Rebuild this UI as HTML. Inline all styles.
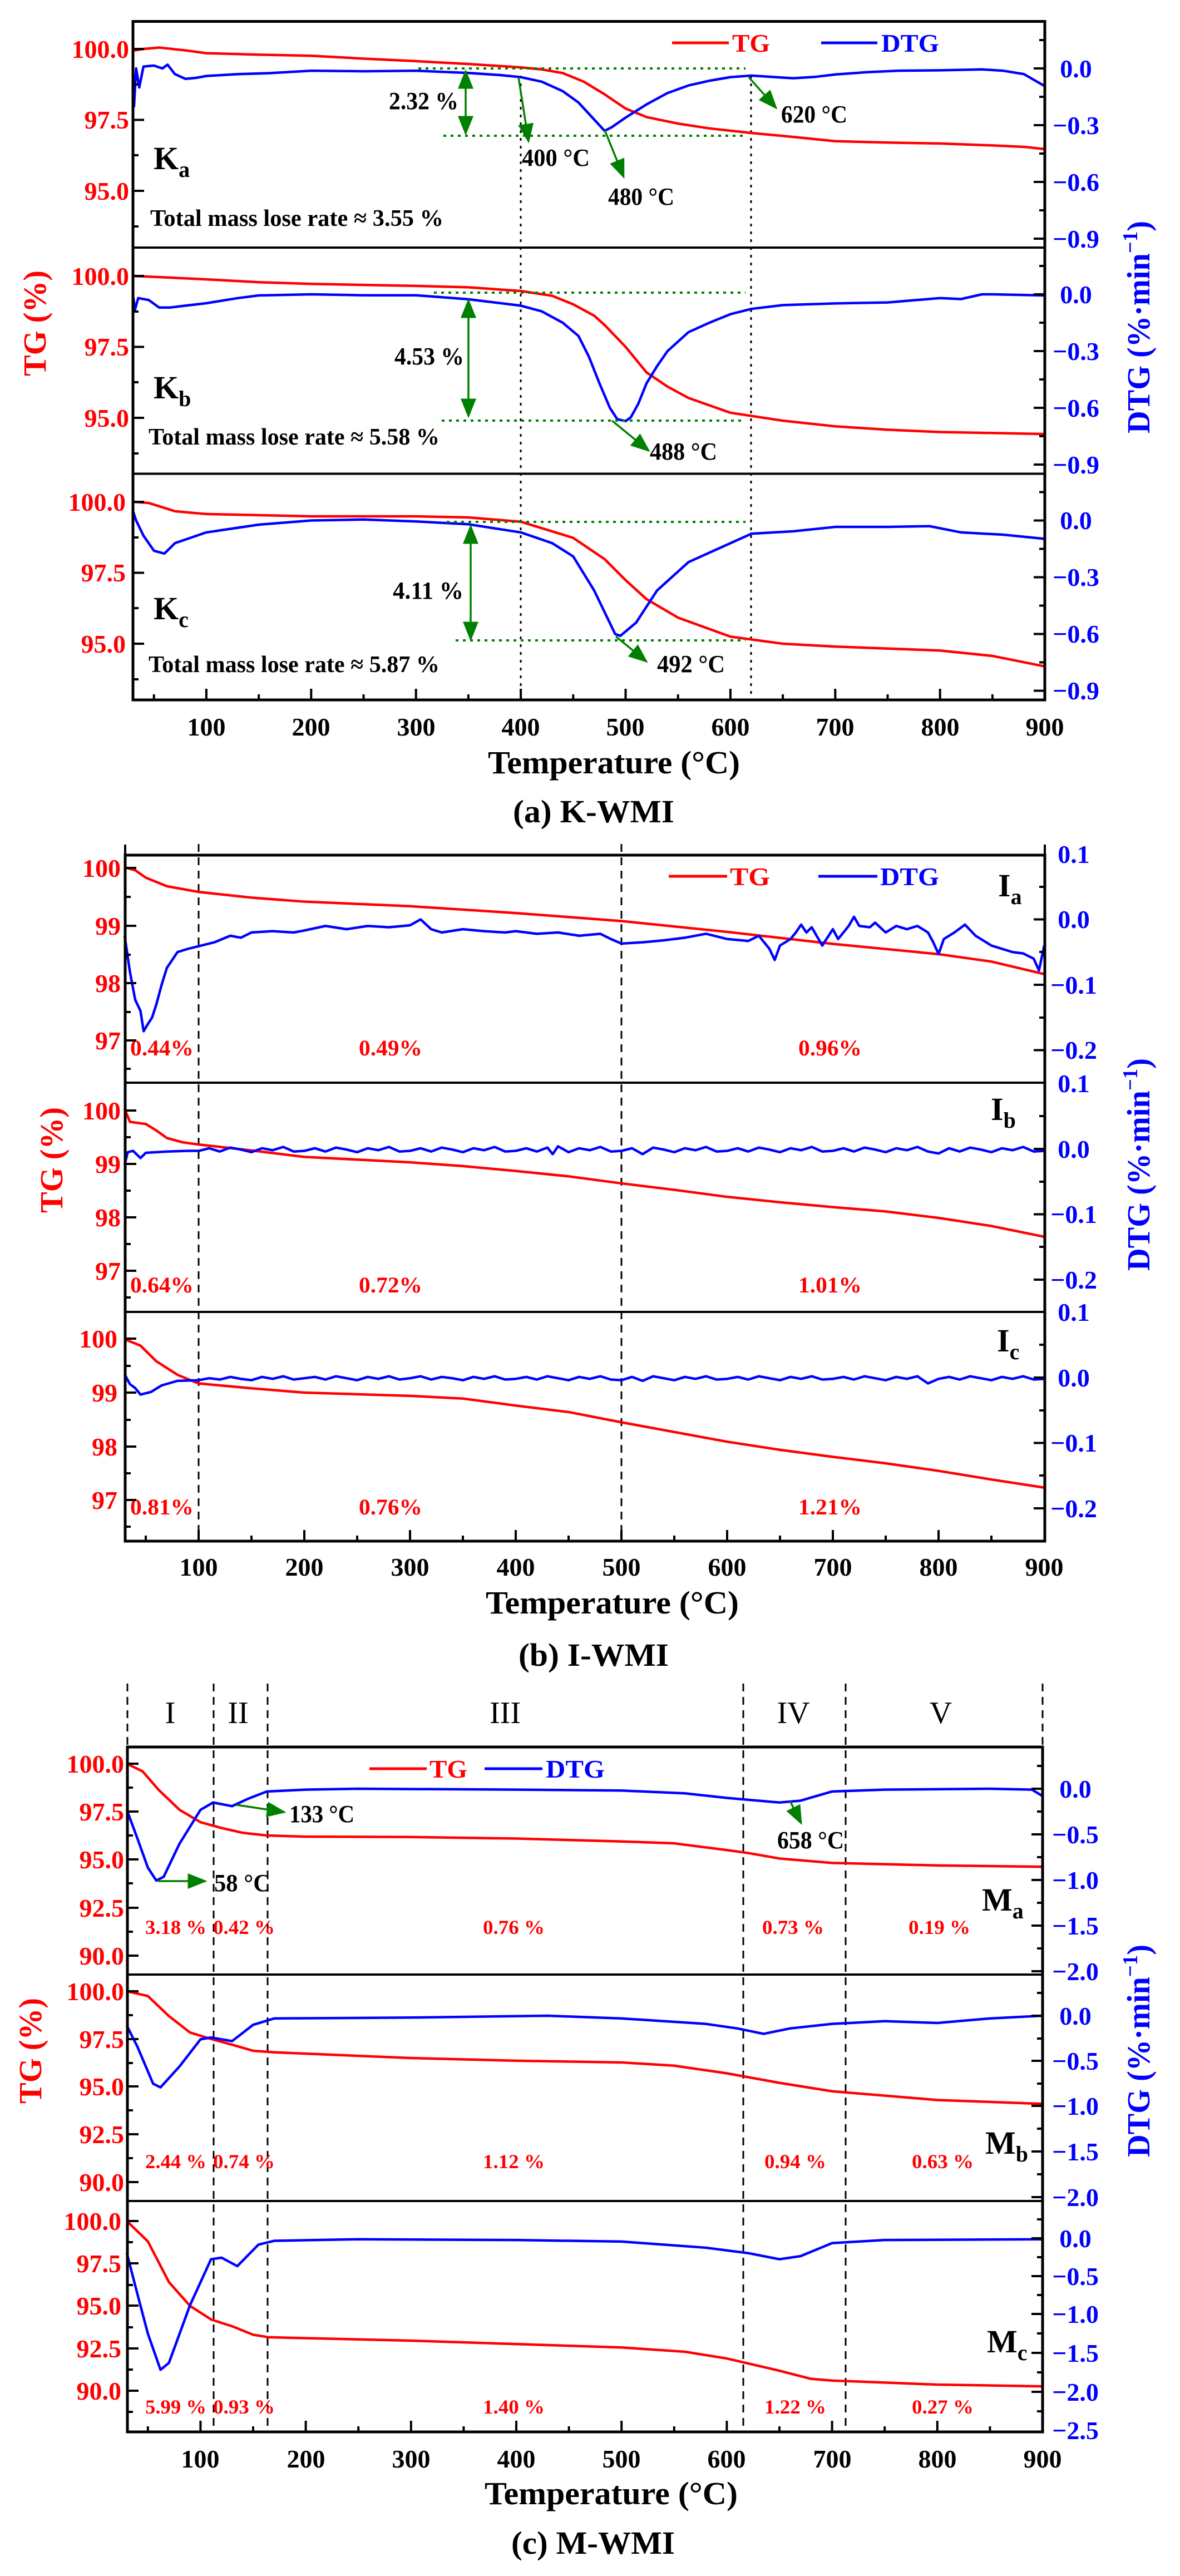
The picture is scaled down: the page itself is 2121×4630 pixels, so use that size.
<!DOCTYPE html>
<html><head><meta charset="utf-8"><style>
html,body{margin:0;padding:0;background:#fff}
svg{display:block}
text{font-family:"Liberation Serif",serif;font-weight:bold}
.r{fill:#ff0000}.b{fill:#0000ff}.k{fill:#000}
.tg{fill:none;stroke:#ff0000;stroke-width:4.5;vector-effect:non-scaling-stroke;stroke-linejoin:round}
.dt{fill:none;stroke:#0000ff;stroke-width:4.5;vector-effect:non-scaling-stroke;stroke-linejoin:round}
.ax{fill:none;stroke:#000;stroke-width:5}
.sep{stroke:#000;stroke-width:4}
.tk{stroke:#000;stroke-width:4;fill:none}
.gd{stroke:#008000;stroke-width:4;stroke-dasharray:5 8;fill:none}
.kd{stroke:#000;stroke-width:3;stroke-dasharray:5 9;fill:none}
.kd2{stroke:#000;stroke-width:3;stroke-dasharray:14 10;fill:none}
.ga{stroke:#008000;stroke-width:3.5;fill:none}
</style></head><body>
<svg width="2121" height="4630" viewBox="0 0 2121 4630" xmlns="http://www.w3.org/2000/svg">
<defs>
<marker id="ah" markerWidth="10" markerHeight="8" refX="9" refY="4" orient="auto" markerUnits="strokeWidth"><path d="M0,0 L10,4 L0,8 Z" fill="#008000"/></marker>
<marker id="ah2" markerWidth="10" markerHeight="8" refX="9" refY="4" orient="auto-start-reverse" markerUnits="strokeWidth"><path d="M0,0 L10,4 L0,8 Z" fill="#008000"/></marker>
</defs>

<!-- ================= PANEL A ================= -->
<g>
<!-- dotted black verticals -->
<line class="kd" x1="936" y1="136" x2="936" y2="1258"/>
<line class="kd" x1="1350" y1="136" x2="1350" y2="1258"/>
<!-- curves -->
<g transform="matrix(1.884 0 0 -51 182.5 5188)">
<polyline class="tg" points="30,99.94 40,100.0 55,100.05 80,99.95 100,99.85 150,99.8 200,99.76 250,99.66 300,99.57 350,99.47 380,99.4 400,99.35 420,99.28 440,99.15 460,98.85 480,98.4 500,97.9 520,97.6 550,97.37 580,97.2 620,97.04 660,96.9 700,96.75 750,96.7 800,96.67 850,96.6 880,96.55 900,96.47"/>
</g>
<g transform="matrix(1.884 0 0 -340 182.5 123)">
<polyline class="dt" points="30,0.0 31,-0.2 33,0.0 36,-0.1 40,0.01 50,0.015 58,0.0 63,0.02 70,-0.03 80,-0.055 90,-0.05 100,-0.04 130,-0.03 160,-0.025 200,-0.012 250,-0.015 300,-0.012 350,-0.024 380,-0.035 400,-0.046 420,-0.07 440,-0.12 455,-0.18 470,-0.27 480,-0.33 487,-0.31 500,-0.26 520,-0.19 540,-0.13 560,-0.09 580,-0.065 600,-0.046 620,-0.038 640,-0.045 660,-0.052 680,-0.045 700,-0.032 730,-0.02 760,-0.012 800,-0.01 840,-0.005 860,-0.012 880,-0.03 900,-0.094"/>
</g>
<g transform="matrix(1.884 0 0 -51 182.5 5596)">
<polyline class="tg" points="30,100 60,99.95 100,99.88 150,99.78 200,99.72 300,99.65 350,99.6 400,99.47 430,99.3 450,99.0 470,98.6 480,98.27 500,97.5 520,96.6 540,96.1 560,95.7 600,95.18 650,94.9 700,94.7 750,94.58 800,94.5 900,94.43"/>
</g>
<g transform="matrix(1.884 0 0 -340 182.5 529)">
<polyline class="dt" points="30,-0.006 32,-0.08 35,-0.02 45,-0.03 55,-0.07 65,-0.07 80,-0.06 100,-0.047 130,-0.02 150,-0.006 200,0 250,-0.005 300,-0.005 350,-0.026 400,-0.06 420,-0.09 440,-0.15 455,-0.22 465,-0.33 475,-0.47 485,-0.6 492,-0.66 500,-0.67 505,-0.65 512,-0.58 520,-0.47 530,-0.38 540,-0.3 560,-0.2 580,-0.15 600,-0.105 620,-0.077 650,-0.057 700,-0.048 750,-0.043 800,-0.02 820,-0.025 840,0.0 850,0.0 900,-0.006"/>
</g>
<g transform="matrix(1.884 0 0 -51 182.5 6002)">
<polyline class="tg" points="30,100 45,99.96 70,99.67 100,99.57 200,99.49 300,99.49 350,99.45 400,99.3 450,98.73 480,97.98 500,97.24 520,96.57 550,95.92 600,95.25 650,95.0 700,94.9 800,94.76 850,94.57 900,94.2"/>
</g>
<g transform="matrix(1.884 0 0 -340 182.5 935.5)">
<polyline class="dt" points="30,0.05 33,0.0 40,-0.08 50,-0.16 60,-0.175 70,-0.12 100,-0.063 150,-0.022 200,0 250,0.005 300,-0.005 350,-0.02 400,-0.063 430,-0.12 450,-0.19 470,-0.37 490,-0.6 495,-0.61 510,-0.54 530,-0.37 560,-0.22 600,-0.12 620,-0.07 660,-0.057 700,-0.034 750,-0.034 790,-0.03 820,-0.063 860,-0.075 900,-0.097"/>
</g>

<!-- annotations Ka -->
<line class="gd" x1="752" y1="123" x2="1340" y2="123"/>
<line class="gd" x1="797" y1="244" x2="1340" y2="244"/>
<line class="ga" x1="837" y1="128" x2="837" y2="240" marker-start="url(#ah2)" marker-end="url(#ah)"/>
<text x="699" y="196" font-size="44" class="k" textLength="125" lengthAdjust="spacingAndGlyphs">2.32 %</text>
<line class="ga" x1="932" y1="139" x2="950" y2="254" marker-end="url(#ah)"/>
<text x="938" y="298" font-size="44" class="k" textLength="122" lengthAdjust="spacingAndGlyphs">400 °C</text>
<line class="ga" x1="1087" y1="234" x2="1121" y2="318" marker-end="url(#ah)"/>
<text x="1093" y="368" font-size="44" class="k" textLength="119" lengthAdjust="spacingAndGlyphs">480 °C</text>
<line class="ga" x1="1346" y1="139" x2="1395" y2="194" marker-end="url(#ah)"/>
<text x="1404" y="220" font-size="44" class="k" textLength="119" lengthAdjust="spacingAndGlyphs">620 °C</text>
<text x="276" y="304" font-size="58" class="k">K<tspan font-size="40" dy="14">a</tspan></text>
<text x="270" y="406" font-size="42" class="k" textLength="527" lengthAdjust="spacingAndGlyphs">Total mass lose rate ≈ 3.55 %</text>
<!-- Kb -->
<line class="gd" x1="780" y1="526" x2="1340" y2="526"/>
<line class="gd" x1="794" y1="756" x2="1340" y2="756"/>
<line class="ga" x1="842" y1="540" x2="842" y2="748" marker-start="url(#ah2)" marker-end="url(#ah)"/>
<text x="709" y="655" font-size="44" class="k" textLength="125" lengthAdjust="spacingAndGlyphs">4.53 %</text>
<line class="ga" x1="1100" y1="756" x2="1166" y2="810" marker-end="url(#ah)"/>
<text x="1168" y="826" font-size="44" class="k" textLength="121" lengthAdjust="spacingAndGlyphs">488 °C</text>
<text x="276" y="716" font-size="58" class="k">K<tspan font-size="40" dy="14">b</tspan></text>
<text x="267" y="799" font-size="42" class="k" textLength="523" lengthAdjust="spacingAndGlyphs">Total mass lose rate ≈ 5.58 %</text>
<!-- Kc -->
<line class="gd" x1="803" y1="938" x2="1340" y2="938"/>
<line class="gd" x1="819" y1="1151" x2="1340" y2="1151"/>
<line class="ga" x1="846" y1="946" x2="846" y2="1149" marker-start="url(#ah2)" marker-end="url(#ah)"/>
<text x="706" y="1076" font-size="44" class="k" textLength="127" lengthAdjust="spacingAndGlyphs">4.11 %</text>
<line class="ga" x1="1107" y1="1144" x2="1162" y2="1189" marker-end="url(#ah)"/>
<text x="1181" y="1208" font-size="44" class="k" textLength="122" lengthAdjust="spacingAndGlyphs">492 °C</text>
<text x="276" y="1113" font-size="58" class="k">K<tspan font-size="40" dy="14">c</tspan></text>
<text x="267" y="1208" font-size="42" class="k" textLength="523" lengthAdjust="spacingAndGlyphs">Total mass lose rate ≈ 5.87 %</text>
<!-- legend -->
<line x1="1208" y1="77" x2="1310" y2="77" stroke="#f00" stroke-width="5"/>
<text x="1316" y="93" font-size="46" class="r" textLength="68" lengthAdjust="spacingAndGlyphs">TG</text>
<line x1="1476" y1="77" x2="1577" y2="77" stroke="#00f" stroke-width="5"/>
<text x="1584" y="93" font-size="46" class="b" textLength="104" lengthAdjust="spacingAndGlyphs">DTG</text>

<!-- frame -->
<rect class="ax" x="239" y="38.5" width="1639" height="1219.5"/>
<line class="sep" x1="239" y1="445" x2="1878" y2="445"/>
<line class="sep" x1="239" y1="851.5" x2="1878" y2="851.5"/>
<!-- ticks -->
<path class="tk" d="M239,88h20M239,215.5h20M239,343h20M239,151.75h10M239,279h10M239,407h10
M239,496h20M239,623.5h20M239,751h20M239,560h10M239,687h10M239,815h10
M239,902h20M239,1029.5h20M239,1157h20M239,966h10M239,1093h10M239,1221h10
M1878,123h-20M1878,225h-20M1878,327h-20M1878,429h-20M1878,72h-10M1878,174h-10M1878,276h-10M1878,378h-10
M1878,529h-20M1878,631h-20M1878,733h-20M1878,835h-20M1878,478h-10M1878,580h-10M1878,682h-10M1878,784h-10
M1878,935.5h-20M1878,1037.5h-20M1878,1139.5h-20M1878,1241.5h-20M1878,884.5h-10M1878,986.5h-10M1878,1088.5h-10M1878,1190.5h-10
M370.9,1258v-20M559.3,1258v-20M747.7,1258v-20M936.1,1258v-20M1124.5,1258v-20M1312.9,1258v-20M1501.3,1258v-20M1689.7,1258v-20
M276.7,1258v-10M465.1,1258v-10M653.5,1258v-10M841.9,1258v-10M1030.3,1258v-10M1218.7,1258v-10M1407.1,1258v-10M1595.5,1258v-10M1783.9,1258v-10"/>
<g font-size="46" class="r" text-anchor="end">
<text x="232" y="104">100.0</text><text x="232" y="231">97.5</text><text x="232" y="359">95.0</text>
<text x="232" y="512">100.0</text><text x="232" y="639">97.5</text><text x="232" y="767">95.0</text>
<text x="226" y="918">100.0</text><text x="226" y="1045">97.5</text><text x="226" y="1173">95.0</text>
</g>
<g font-size="46" class="b" text-anchor="middle">
<text x="1934" y="139">0.0</text><text x="1934" y="241">−0.3</text><text x="1934" y="343">−0.6</text><text x="1934" y="445">−0.9</text>
<text x="1934" y="545">0.0</text><text x="1934" y="647">−0.3</text><text x="1934" y="749">−0.6</text><text x="1934" y="851">−0.9</text>
<text x="1934" y="951">0.0</text><text x="1934" y="1053">−0.3</text><text x="1934" y="1155">−0.6</text><text x="1934" y="1257">−0.9</text>
</g>
<g font-size="46" class="k" text-anchor="middle">
<text x="371" y="1322">100</text><text x="559" y="1322">200</text><text x="748" y="1322">300</text><text x="936" y="1322">400</text><text x="1124" y="1322">500</text><text x="1313" y="1322">600</text><text x="1501" y="1322">700</text><text x="1690" y="1322">800</text><text x="1878" y="1322">900</text>
</g>
<text x="877" y="1390" font-size="58" class="k" textLength="453" lengthAdjust="spacingAndGlyphs">Temperature (°C)</text>
<text x="922" y="1478" font-size="58" class="k" textLength="290" lengthAdjust="spacingAndGlyphs">(a) K-WMI</text>
<text transform="translate(82,676) rotate(-90)" font-size="58" class="r" textLength="190" lengthAdjust="spacingAndGlyphs">TG (%)</text>
<text transform="translate(2066,779) rotate(-90)" font-size="58" class="b" textLength="382" lengthAdjust="spacingAndGlyphs">DTG (%·min<tspan font-size="38" dy="-22">−1</tspan><tspan dy="22">)</tspan></text>
</g>

<!-- ================= PANEL B ================= -->
<g>
<line class="kd2" x1="357" y1="1517" x2="357" y2="2770"/>
<line class="kd2" x1="1117" y1="1517" x2="1117" y2="2770"/>
<g transform="matrix(1.9 0 0 -102.6 167 11819)">
<polyline class="tg" points="30,100 40,99.95 50,99.82 70,99.67 100,99.57 150,99.47 200,99.4 300,99.32 400,99.2 500,99.06 600,98.87 700,98.66 800,98.48 850,98.35 900,98.13"/>
</g>
<g transform="matrix(1.9 0 0 -1175 167 1652.5)">
<polyline class="dt" points="30,-0.025 35,-0.08 40,-0.123 45,-0.14 48,-0.171 52,-0.16 56,-0.15 60,-0.13 65,-0.1 70,-0.074 80,-0.05 90,-0.045 100,-0.041 115,-0.035 130,-0.025 140,-0.028 150,-0.02 170,-0.018 190,-0.02 200,-0.017 220,-0.01 240,-0.015 260,-0.01 280,-0.012 300,-0.009 310,0.0 320,-0.015 330,-0.02 350,-0.015 370,-0.018 390,-0.02 400,-0.018 420,-0.022 440,-0.02 460,-0.025 480,-0.022 490,-0.03 500,-0.037 520,-0.035 540,-0.032 560,-0.028 580,-0.022 600,-0.03 620,-0.033 630,-0.025 640,-0.045 645,-0.062 650,-0.04 660,-0.03 665,-0.02 670,-0.008 675,-0.02 680,-0.012 690,-0.04 700,-0.015 705,-0.03 715,-0.01 720,0.004 725,-0.01 735,-0.012 740,-0.005 750,-0.02 760,-0.01 770,-0.015 780,-0.01 790,-0.02 795,-0.035 800,-0.053 805,-0.03 815,-0.02 825,-0.008 835,-0.025 850,-0.04 860,-0.045 870,-0.05 880,-0.052 890,-0.06 895,-0.078 900,-0.04"/>
</g>
<g transform="matrix(1.9 0 0 -97 167 11695)">
<polyline class="tg" points="30,100.02 35,99.78 50,99.74 60,99.62 70,99.48 85,99.4 100,99.36 150,99.25 200,99.13 300,99.03 350,98.96 400,98.87 450,98.77 500,98.64 550,98.52 600,98.39 650,98.29 700,98.2 750,98.12 800,98.0 850,97.85 900,97.65"/>
</g>
<g transform="matrix(1.9 0 0 -1175 167 2065)">
<polyline class="dt" points="30,-0.024 33,-0.005 38,-0.003 45,-0.014 50,-0.006 60,-0.005 70,-0.004 90,-0.003 100,-0.003 110,0.001 120,-0.004 130,0.002 140,-0.001 150,-0.005 160,0.001 170,-0.002 180,0.003 190,-0.004 200,-0.003 210,0.001 220,-0.004 230,0.002 240,-0.001 250,-0.005 260,0.001 270,-0.002 280,0.003 290,-0.004 300,-0.003 310,0.001 320,-0.004 330,0.002 340,-0.001 350,-0.005 360,0.001 370,-0.002 380,0.003 390,-0.004 400,-0.003 410,0.001 420,-0.004 430,0.002 435,-0.008 440,0.004 450,-0.005 460,0.001 470,-0.002 480,0.003 490,-0.004 500,-0.003 510,0.001 520,-0.008 530,0.002 540,-0.001 550,-0.005 560,0.001 570,-0.002 580,0.003 590,-0.004 600,-0.003 610,0.001 620,-0.004 630,0.002 640,-0.001 650,-0.005 660,0.001 670,-0.002 680,0.003 690,-0.004 700,-0.003 710,0.001 720,-0.004 730,0.002 740,-0.001 750,-0.005 760,0.001 770,-0.002 780,0.003 790,-0.004 800,-0.007 810,0.001 820,-0.004 830,0.002 840,-0.001 850,-0.005 860,0.001 870,-0.002 880,0.003 890,-0.004 900,-0.003"/>
</g>
<g transform="matrix(1.9 0 0 -97 167 12107)">
<polyline class="tg" points="30,100 45,99.88 60,99.59 80,99.34 100,99.18 150,99.09 200,99.01 300,98.95 350,98.9 400,98.77 450,98.65 500,98.46 550,98.28 600,98.1 650,97.95 700,97.82 750,97.7 800,97.56 850,97.4 900,97.25"/>
</g>
<g transform="matrix(1.9 0 0 -1175 167 2476)">
<polyline class="dt" points="30,0.005 35,-0.01 40,-0.016 45,-0.026 55,-0.022 65,-0.012 80,-0.005 100,-0.004 110,-0.001 120,-0.003 130,0.001 140,-0.002 150,-0.004 160,0.001 170,-0.002 180,0.002 190,-0.003 200,-0.001 210,0.001 220,-0.003 230,0.002 240,-0.001 250,-0.004 260,0.001 270,-0.002 280,0.002 290,-0.003 300,-0.001 310,0.002 320,-0.003 330,0.001 340,-0.001 350,-0.004 360,0.001 370,-0.002 380,0.002 390,-0.003 400,-0.002 410,0.001 420,-0.003 430,0.002 440,-0.001 450,-0.004 460,0.001 470,-0.002 480,0.002 490,-0.003 500,-0.004 510,0.001 520,-0.005 530,0.002 540,-0.001 550,-0.004 560,0.001 570,-0.002 580,0.002 590,-0.003 600,-0.002 610,0.001 620,-0.003 630,0.002 640,-0.001 650,-0.004 660,0.001 670,-0.002 680,0.002 690,-0.003 700,-0.002 710,0.001 720,-0.003 730,0.002 740,-0.001 750,-0.004 760,0.001 770,-0.002 780,0.002 790,-0.009 800,-0.002 810,0.001 820,-0.003 830,0.002 840,-0.001 850,-0.004 860,0.001 870,-0.002 880,0.002 890,-0.003 900,-0.002"/>
</g>
<!-- percent labels -->
<g font-size="40" class="r">
<text x="234" y="1897" textLength="114" lengthAdjust="spacingAndGlyphs">0.44%</text>
<text x="645" y="1897" textLength="114" lengthAdjust="spacingAndGlyphs">0.49%</text>
<text x="1435" y="1897" textLength="114" lengthAdjust="spacingAndGlyphs">0.96%</text>
<text x="234" y="2323" textLength="114" lengthAdjust="spacingAndGlyphs">0.64%</text>
<text x="645" y="2323" textLength="114" lengthAdjust="spacingAndGlyphs">0.72%</text>
<text x="1435" y="2323" textLength="114" lengthAdjust="spacingAndGlyphs">1.01%</text>
<text x="234" y="2722" textLength="114" lengthAdjust="spacingAndGlyphs">0.81%</text>
<text x="645" y="2722" textLength="114" lengthAdjust="spacingAndGlyphs">0.76%</text>
<text x="1435" y="2722" textLength="114" lengthAdjust="spacingAndGlyphs">1.21%</text>
</g>
<text x="1794" y="1611" font-size="58" class="k">I<tspan font-size="40" dy="14">a</tspan></text>
<text x="1781" y="2013" font-size="58" class="k">I<tspan font-size="40" dy="14">b</tspan></text>
<text x="1792" y="2429" font-size="58" class="k">I<tspan font-size="40" dy="14">c</tspan></text>
<line x1="1202" y1="1575" x2="1307" y2="1575" stroke="#f00" stroke-width="5"/>
<text x="1312" y="1591" font-size="46" class="r" textLength="72" lengthAdjust="spacingAndGlyphs">TG</text>
<line x1="1471" y1="1575" x2="1577" y2="1575" stroke="#00f" stroke-width="5"/>
<text x="1582" y="1591" font-size="46" class="b" textLength="106" lengthAdjust="spacingAndGlyphs">DTG</text>

<rect class="ax" x="225" y="1537" width="1653" height="1233"/>
<line class="sep" x1="225" y1="1946" x2="1878" y2="1946"/>
<line class="sep" x1="225" y1="2358" x2="1878" y2="2358"/>
<path class="tk" d="M225,1560h20M225,1664h20M225,1767h20M225,1870h20M225,1612h10M225,1716h10M225,1819h10M225,1921h10
M225,1996h20M225,2092h20M225,2188h20M225,2284h20M225,2044h10M225,2140h10M225,2236h10M225,2332h10
M225,2406h20M225,2503h20M225,2600h20M225,2696h20M225,2455h10M225,2552h10M225,2648h10M225,2744h10
M1878,1652.5h-20M1878,1770h-20M1878,1887.5h-20M1878,1594h-10M1878,1711h-10M1878,1829h-10
M1878,2065h-20M1878,2182.5h-20M1878,2300h-20M1878,2006h-10M1878,2124h-10M1878,2241h-10
M1878,2476h-20M1878,2593.5h-20M1878,2711h-20M1878,2417h-10M1878,2535h-10M1878,2652h-10
M357,2770v-20M547,2770v-20M737,2770v-20M927,2770v-20M1117,2770v-20M1307,2770v-20M1497,2770v-20M1687,2770v-20
M262,2770v-10M452,2770v-10M642,2770v-10M832,2770v-10M1022,2770v-10M1212,2770v-10M1402,2770v-10M1592,2770v-10M1782,2770v-10"/>
<line x1="1878" y1="1518" x2="1878" y2="1537" stroke="#000" stroke-width="4"/>
<line x1="225" y1="1518" x2="225" y2="1537" stroke="#000" stroke-width="4"/>
<g font-size="46" class="r" text-anchor="end">
<text x="217" y="1576">100</text><text x="217" y="1680">99</text><text x="217" y="1783">98</text><text x="217" y="1886">97</text>
<text x="217" y="2012">100</text><text x="217" y="2108">99</text><text x="217" y="2204">98</text><text x="217" y="2300">97</text>
<text x="211" y="2422">100</text><text x="211" y="2519">99</text><text x="211" y="2616">98</text><text x="211" y="2712">97</text>
</g>
<g font-size="46" class="b" text-anchor="middle">
<text x="1930" y="1551">0.1</text><text x="1930" y="1668">0.0</text><text x="1930" y="1786">−0.1</text><text x="1930" y="1903">−0.2</text>
<text x="1930" y="1963">0.1</text><text x="1930" y="2081">0.0</text><text x="1930" y="2198">−0.1</text><text x="1930" y="2316">−0.2</text>
<text x="1930" y="2374">0.1</text><text x="1930" y="2492">0.0</text><text x="1930" y="2609">−0.1</text><text x="1930" y="2727">−0.2</text>
</g>
<g font-size="46" class="k" text-anchor="middle">
<text x="357" y="2832">100</text><text x="547" y="2832">200</text><text x="737" y="2832">300</text><text x="927" y="2832">400</text><text x="1117" y="2832">500</text><text x="1307" y="2832">600</text><text x="1497" y="2832">700</text><text x="1687" y="2832">800</text><text x="1877" y="2832">900</text>
</g>
<text x="873" y="2900" font-size="58" class="k" textLength="455" lengthAdjust="spacingAndGlyphs">Temperature (°C)</text>
<text x="932" y="2994" font-size="58" class="k" textLength="270" lengthAdjust="spacingAndGlyphs">(b) I-WMI</text>
<text transform="translate(112,2180) rotate(-90)" font-size="58" class="r" textLength="190" lengthAdjust="spacingAndGlyphs">TG (%)</text>
<text transform="translate(2066,2284) rotate(-90)" font-size="58" class="b" textLength="382" lengthAdjust="spacingAndGlyphs">DTG (%·min<tspan font-size="38" dy="-22">−1</tspan><tspan dy="22">)</tspan></text>
</g>

<!-- ================= PANEL C ================= -->
<g>
<line class="kd2" x1="229" y1="3026" x2="229" y2="3140"/>
<line class="kd2" x1="1874" y1="3026" x2="1874" y2="3140"/>
<line class="kd2" x1="384" y1="3026" x2="384" y2="4371"/>
<line class="kd2" x1="481" y1="3026" x2="481" y2="4371"/>
<line class="kd2" x1="1336" y1="3026" x2="1336" y2="4371"/>
<line class="kd2" x1="1520" y1="3026" x2="1520" y2="4371"/>
<g font-size="56" class="k" font-weight="normal" text-anchor="middle" style="font-weight:normal">
<text x="306" y="3097" style="font-weight:normal">I</text><text x="428" y="3097" style="font-weight:normal">II</text><text x="908" y="3097" style="font-weight:normal">III</text><text x="1426" y="3097" style="font-weight:normal">IV</text><text x="1691" y="3097" style="font-weight:normal">V</text>
</g>
<g transform="matrix(1.892 0 0 -34.5 171.2 6620)">
<polyline class="tg" points="30,100 45,99.6 60,98.65 80,97.6 100,96.95 120,96.65 140,96.4 163,96.26 200,96.2 300,96.18 400,96.1 500,95.95 550,95.85 600,95.5 620,95.35 650,95.06 700,94.83 800,94.7 900,94.63"/>
</g>
<g transform="matrix(1.892 0 0 -165 171.2 3215)">
<polyline class="dt" points="30,-0.23 40,-0.54 50,-0.86 58,-1.0 65,-0.96 80,-0.6 100,-0.23 112,-0.15 130,-0.19 145,-0.11 163,-0.03 200,-0.01 250,0.0 400,-0.01 500,-0.02 560,-0.05 600,-0.1 650,-0.15 670,-0.13 700,-0.03 750,-0.01 850,0.0 890,-0.01 900,-0.08"/>
</g>
<g transform="matrix(1.892 0 0 -34.3 171.2 7009)">
<polyline class="tg" points="30,100 50,99.75 70,98.7 90,97.84 110,97.5 130,97.2 150,96.88 170,96.8 300,96.5 400,96.36 500,96.27 550,96.1 600,95.7 650,95.2 700,94.76 800,94.3 900,94.1"/>
</g>
<g transform="matrix(1.892 0 0 -163 171.2 3623)">
<polyline class="dt" points="30,-0.11 40,-0.34 55,-0.75 62,-0.79 80,-0.56 100,-0.26 110,-0.24 130,-0.28 150,-0.1 170,-0.03 300,-0.02 430,0.0 500,-0.03 580,-0.09 610,-0.14 635,-0.2 660,-0.14 700,-0.09 750,-0.06 800,-0.08 850,-0.03 900,0.0"/>
</g>
<g transform="matrix(1.892 0 0 -30.5 171.2 7042)">
<polyline class="tg" points="30,100 50,98.8 70,96.4 90,95.0 110,94.2 130,93.8 150,93.3 165,93.15 200,93.1 300,92.95 400,92.75 500,92.55 560,92.3 600,91.9 650,91.18 680,90.7 700,90.6 800,90.36 900,90.26"/>
</g>
<g transform="matrix(1.892 0 0 -138 171.2 4022)">
<polyline class="dt" points="30,-0.2 40,-0.73 50,-1.25 62,-1.72 70,-1.63 90,-0.88 110,-0.28 120,-0.26 135,-0.37 155,-0.09 170,-0.04 250,-0.02 400,-0.03 500,-0.05 580,-0.13 620,-0.2 650,-0.28 670,-0.24 700,-0.07 750,-0.03 900,-0.02"/>
</g>
<!-- arrows -->
<line class="ga" x1="284" y1="3381" x2="369" y2="3381" marker-end="url(#ah)"/>
<text x="385" y="3399" font-size="44" class="k" textLength="101" lengthAdjust="spacingAndGlyphs">58 °C</text>
<line class="ga" x1="425" y1="3244" x2="511" y2="3257" marker-end="url(#ah)"/>
<text x="520" y="3275" font-size="44" class="k" textLength="117" lengthAdjust="spacingAndGlyphs">133 °C</text>
<line class="ga" x1="1420" y1="3237" x2="1440" y2="3277" marker-end="url(#ah)"/>
<text x="1397" y="3322" font-size="44" class="k" textLength="120" lengthAdjust="spacingAndGlyphs">658 °C</text>
<line x1="664" y1="3179" x2="767" y2="3179" stroke="#f00" stroke-width="5"/>
<text x="772" y="3195" font-size="46" class="r" textLength="68" lengthAdjust="spacingAndGlyphs">TG</text>
<line x1="871" y1="3179" x2="975" y2="3179" stroke="#00f" stroke-width="5"/>
<text x="981" y="3195" font-size="46" class="b" textLength="106" lengthAdjust="spacingAndGlyphs">DTG</text>
<g font-size="36" class="r">
<text x="261" y="3476" textLength="110" lengthAdjust="spacingAndGlyphs">3.18 %</text>
<text x="383" y="3476" textLength="111" lengthAdjust="spacingAndGlyphs">0.42 %</text>
<text x="868" y="3476" textLength="111" lengthAdjust="spacingAndGlyphs">0.76 %</text>
<text x="1370" y="3476" textLength="111" lengthAdjust="spacingAndGlyphs">0.73 %</text>
<text x="1633" y="3476" textLength="111" lengthAdjust="spacingAndGlyphs">0.19 %</text>
<text x="261" y="3897" textLength="110" lengthAdjust="spacingAndGlyphs">2.44 %</text>
<text x="383" y="3897" textLength="111" lengthAdjust="spacingAndGlyphs">0.74 %</text>
<text x="868" y="3897" textLength="111" lengthAdjust="spacingAndGlyphs">1.12 %</text>
<text x="1374" y="3897" textLength="111" lengthAdjust="spacingAndGlyphs">0.94 %</text>
<text x="1639" y="3897" textLength="111" lengthAdjust="spacingAndGlyphs">0.63 %</text>
<text x="261" y="4338" textLength="110" lengthAdjust="spacingAndGlyphs">5.99 %</text>
<text x="383" y="4338" textLength="111" lengthAdjust="spacingAndGlyphs">0.93 %</text>
<text x="868" y="4338" textLength="111" lengthAdjust="spacingAndGlyphs">1.40 %</text>
<text x="1374" y="4338" textLength="111" lengthAdjust="spacingAndGlyphs">1.22 %</text>
<text x="1639" y="4338" textLength="111" lengthAdjust="spacingAndGlyphs">0.27 %</text>
</g>
<text x="1765" y="3434" font-size="58" class="k">M<tspan font-size="40" dy="14">a</tspan></text>
<text x="1771" y="3871" font-size="58" class="k">M<tspan font-size="40" dy="14">b</tspan></text>
<text x="1774" y="4228" font-size="58" class="k">M<tspan font-size="40" dy="14">c</tspan></text>

<rect class="ax" x="229" y="3140" width="1645" height="1231"/>
<line class="sep" x1="229" y1="3549" x2="1874" y2="3549"/>
<line class="sep" x1="229" y1="3956" x2="1874" y2="3956"/>
<path class="tk" d="M229,3170h20M229,3256h20M229,3342h20M229,3429h20M229,3515h20M229,3213h10M229,3299h10M229,3385h10M229,3472h10
M229,3579h20M229,3665h20M229,3750h20M229,3836h20M229,3922h20M229,3622h10M229,3708h10M229,3793h10M229,3879h10
M229,3992h20M229,4068h20M229,4144h20M229,4221h20M229,4297h20M229,4030h10M229,4107h10M229,4183h10M229,4259h10M229,4335h10
M1874,3215h-20M1874,3297h-20M1874,3379h-20M1874,3461h-20M1874,3543h-20M1874,3174h-10M1874,3256h-10M1874,3338h-10M1874,3420h-10M1874,3502h-10
M1874,3623h-20M1874,3704h-20M1874,3785h-20M1874,3867h-20M1874,3949h-20M1874,3582h-10M1874,3664h-10M1874,3745h-10M1874,3826h-10M1874,3908h-10
M1874,4023h-20M1874,4091h-20M1874,4159h-20M1874,4229h-20M1874,4299h-20M1874,3989h-10M1874,4057h-10M1874,4125h-10M1874,4194h-10M1874,4264h-10M1874,4334h-10
M360.4,4371v-20M549.6,4371v-20M738.8,4371v-20M928,4371v-20M1117.2,4371v-20M1306.4,4371v-20M1495.6,4371v-20M1684.8,4371v-20
M265.8,4371v-10M455,4371v-10M644.2,4371v-10M833.4,4371v-10M1022.6,4371v-10M1211.8,4371v-10M1401,4371v-10M1590.2,4371v-10M1779.4,4371v-10"/>
<g font-size="46" class="r" text-anchor="end">
<text x="223" y="3186">100.0</text><text x="223" y="3272">97.5</text><text x="223" y="3358">95.0</text><text x="223" y="3445">92.5</text><text x="223" y="3531">90.0</text>
<text x="223" y="3595">100.0</text><text x="223" y="3681">97.5</text><text x="223" y="3766">95.0</text><text x="223" y="3852">92.5</text><text x="223" y="3938">90.0</text>
<text x="218" y="4008">100.0</text><text x="218" y="4084">97.5</text><text x="218" y="4160">95.0</text><text x="218" y="4237">92.5</text><text x="218" y="4313">90.0</text>
</g>
<g font-size="46" class="b" text-anchor="middle">
<text x="1933" y="3231">0.0</text><text x="1933" y="3313">−0.5</text><text x="1933" y="3395">−1.0</text><text x="1933" y="3477">−1.5</text><text x="1933" y="3559">−2.0</text>
<text x="1933" y="3639">0.0</text><text x="1933" y="3720">−0.5</text><text x="1933" y="3801">−1.0</text><text x="1933" y="3883">−1.5</text><text x="1933" y="3965">−2.0</text>
<text x="1933" y="4039">0.0</text><text x="1933" y="4107">−0.5</text><text x="1933" y="4175">−1.0</text><text x="1933" y="4245">−1.5</text><text x="1933" y="4315">−2.0</text><text x="1933" y="4384">−2.5</text>
</g>
<g font-size="46" class="k" text-anchor="middle">
<text x="360" y="4435">100</text><text x="550" y="4435">200</text><text x="739" y="4435">300</text><text x="928" y="4435">400</text><text x="1117" y="4435">500</text><text x="1306" y="4435">600</text><text x="1496" y="4435">700</text><text x="1685" y="4435">800</text><text x="1874" y="4435">900</text>
</g>
<text x="871" y="4501" font-size="58" class="k" textLength="455" lengthAdjust="spacingAndGlyphs">Temperature (°C)</text>
<text x="919" y="4590" font-size="58" class="k" textLength="294" lengthAdjust="spacingAndGlyphs">(c) M-WMI</text>
<text transform="translate(74,3781) rotate(-90)" font-size="58" class="r" textLength="190" lengthAdjust="spacingAndGlyphs">TG (%)</text>
<text transform="translate(2066,3877) rotate(-90)" font-size="58" class="b" textLength="382" lengthAdjust="spacingAndGlyphs">DTG (%·min<tspan font-size="38" dy="-22">−1</tspan><tspan dy="22">)</tspan></text>
</g>
</svg>
</body></html>
